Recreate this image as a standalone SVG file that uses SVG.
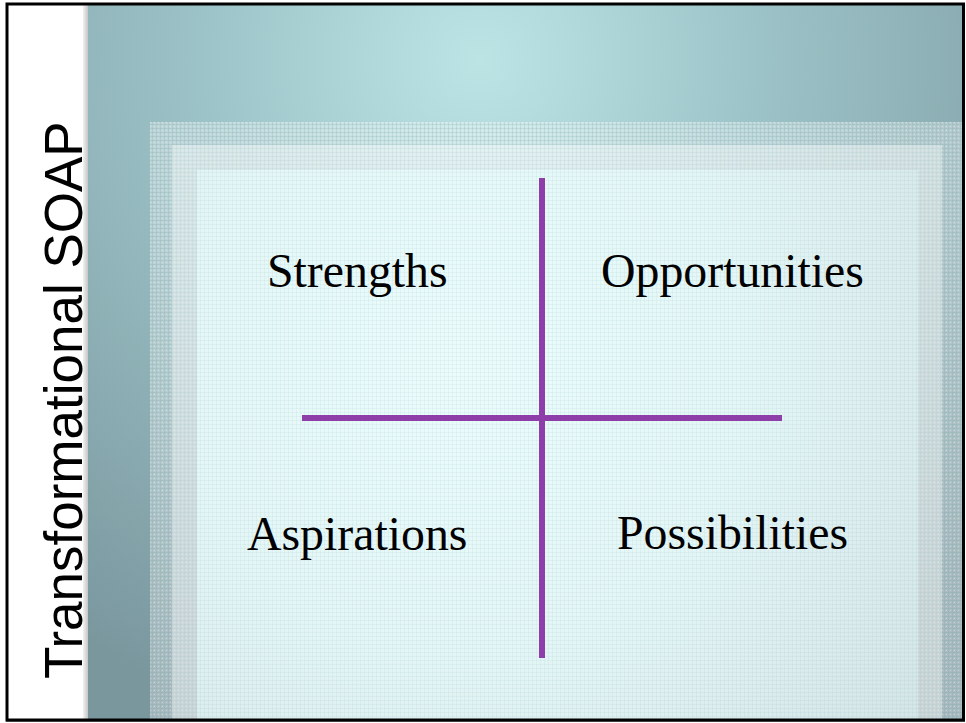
<svg xmlns="http://www.w3.org/2000/svg" width="966" height="723" viewBox="0 0 966 723">
  <defs>
    <style>
      .quad { font-family: "Liberation Serif", "Times New Roman", serif; font-size: 47.8px; fill: #000; }
      .title { font-family: "Liberation Sans", Arial, sans-serif; font-size: 53px; fill: #000; }
      .axis { stroke: #8e3ea8; stroke-width: 6; fill: none; }
    </style>
    <radialGradient id="teal" gradientUnits="userSpaceOnUse" cx="480" cy="60" r="700" fx="480" fy="60">
      <stop offset="0" stop-color="#bde4e5"/>
      <stop offset="0.4" stop-color="#9cc3c7"/>
      <stop offset="1" stop-color="#7a979e"/>
    </radialGradient>
    <linearGradient id="edge" x1="0" y1="0" x2="1" y2="0">
      <stop offset="0" stop-color="#f2f2f2"/>
      <stop offset="1" stop-color="#bdbdbd"/>
    </linearGradient>
    <radialGradient id="panel" gradientUnits="userSpaceOnUse" cx="460" cy="370" r="560">
      <stop offset="0" stop-color="#ebfdfd"/>
      <stop offset="0.5" stop-color="#e4f7f7"/>
      <stop offset="1" stop-color="#d5e6e8"/>
    </radialGradient>
    <pattern id="grid" patternUnits="userSpaceOnUse" width="4" height="4">
      <rect x="0" y="0" width="4" height="1" fill="#6f9aa2" fill-opacity="0.18"/>
      <rect x="0" y="0" width="1" height="4" fill="#6f9aa2" fill-opacity="0.18"/>
      <rect x="2" y="2" width="1" height="1" fill="#ffffff" fill-opacity="0.35"/>
    </pattern>
  </defs>

  <!-- page -->
  <rect x="0" y="0" width="966" height="723" fill="#ffffff"/>

  <!-- backdrop -->
  <rect x="83" y="5" width="6" height="714" fill="url(#edge)"/>
  <rect x="88" y="5" width="875" height="714" fill="url(#teal)"/>

  <!-- stepped panels -->
  <rect x="150" y="122" width="813" height="597" fill="#ffffff" fill-opacity="0.36"/>
  <rect x="150" y="122" width="813" height="597" fill="url(#grid)"/>
  <rect x="172" y="145" width="770" height="574" fill="#ffffff" fill-opacity="0.38"/>
  <rect x="197" y="170" width="721" height="549" fill="url(#panel)" fill-opacity="0.95"/>
  <rect x="197" y="170" width="721" height="549" fill="url(#grid)" opacity="0.4"/>

  <!-- frame -->
  <rect x="7" y="4" width="956.5" height="716" fill="none" stroke="#000" stroke-width="3"/>
  <line x1="6" y1="720.5" x2="965" y2="720.5" stroke="#000" stroke-width="2"/>

  <!-- vertical heading -->
  <g id="title">
    <text class="title" transform="translate(82,679) rotate(-90)">Transformational SOAP</text>
  </g>

  <!-- quadrant axes -->
  <g id="connectors">
    <line class="axis" x1="542" y1="178" x2="542" y2="658"/>
    <line class="axis" x1="302" y1="418" x2="782" y2="418"/>
  </g>

  <g id="strengths">
    <text class="quad" x="267" y="287">Strengths</text>
  </g>
  <g id="opportunities">
    <text class="quad" x="601" y="287">Opportunities</text>
  </g>
  <g id="aspirations">
    <text class="quad" x="247" y="550">Aspirations</text>
  </g>
  <g id="possibilities">
    <text class="quad" x="617" y="549">Possibilities</text>
  </g>
</svg>
